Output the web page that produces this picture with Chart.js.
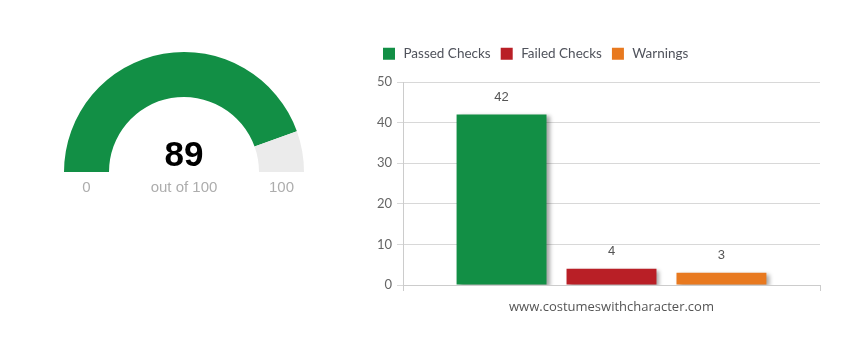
<!DOCTYPE html>
<html><head><meta charset="utf-8">
<script src="https://cdn.jsdelivr.net/npm/chart.js@4.4.1/dist/chart.umd.min.js"></script>
<style>
html,body{margin:0;padding:0;background:#fff;width:855px;height:352px;overflow:hidden;position:relative}
#g{position:absolute;left:54px;top:52px;width:260px;height:150px}
#b{position:absolute;left:373px;top:37px;width:457px;height:283px}
</style></head><body>
<div id="g"><canvas id="gc"></canvas></div>
<div id="b"><canvas id="bc"></canvas></div>
<script>
// gauge data
const gaugeValue = 89;
const gaugeMax = 100;
const gaugeMinLabel = "0";
const gaugeMaxLabel = "100";
const gaugeSubLabel = "out of 100";

// bar data
const categories = ["www.costumeswithcharacter.com"];
const seriesNames = ["Passed Checks", "Failed Checks", "Warnings"];
const passedValues = [42];
const failedValues = [4];
const warningValues = [3];
const seriesColors = ["#128f45", "#b91f26", "#e8791f"];
const yTicks = [0, 10, 20, 30, 40, 50];

const gaugeText = {
  id: 'gaugeText',
  afterDraw(chart) {
    const ctx = chart.ctx;
    const a = chart.chartArea;
    const cx = (a.left + a.right) / 2;
    const meta = chart.getDatasetMeta(0);
    const arc = meta.data[0];
    const r = arc.outerRadius, ir = arc.innerRadius;
    ctx.save();
    ctx.textAlign = 'center';
    ctx.textBaseline = 'middle';
    ctx.fillStyle = '#000';
    ctx.font = 'bold 35px "Liberation Sans", Arial, sans-serif';
    ctx.fillText(String(gaugeValue), cx, a.bottom - 16);
    ctx.fillStyle = '#adadad';
    ctx.font = '15px "Liberation Sans", Arial, sans-serif';
    ctx.fillText(gaugeSubLabel, cx, a.bottom + 16);
    ctx.fillText(gaugeMinLabel, cx - (r + ir) / 2, a.bottom + 16);
    ctx.fillText(gaugeMaxLabel, cx + (r + ir) / 2, a.bottom + 16);
    ctx.restore();
  }
};

new Chart(document.getElementById('gc'), {
  type: 'doughnut',
  data: {
    labels: ['value', 'rest'],
    datasets: [{
      data: [gaugeValue, gaugeMax - gaugeValue],
      backgroundColor: ['#128f45', '#ebebeb'],
      borderWidth: 0,
      hoverOffset: 0
    }]
  },
  options: {
    responsive: true,
    maintainAspectRatio: false,
    animation: false,
    rotation: -90,
    circumference: 180,
    cutout: '62.5%',
    layout: { padding: { left: 10, right: 10, top: 0, bottom: 30 } },
    plugins: { legend: { display: false }, tooltip: { enabled: false } }
  },
  plugins: [gaugeText]
});

const barShadow = {
  id: 'barShadow',
  beforeDatasetsDraw(chart) {
    const ctx = chart.ctx;
    ctx.save();
    ctx.shadowColor = 'rgba(0,0,0,0.35)';
    ctx.shadowOffsetX = 3;
    ctx.shadowOffsetY = 2;
    ctx.shadowBlur = 4;
  },
  afterDatasetsDraw(chart) {
    chart.ctx.restore();
    const ctx = chart.ctx;
    ctx.save();
    ctx.fillStyle = '#555';
    ctx.font = '13px "Liberation Sans", Arial, sans-serif';
    ctx.textAlign = 'center';
    ctx.textBaseline = 'middle';
    chart.data.datasets.forEach((ds, i) => {
      const meta = chart.getDatasetMeta(i);
      meta.data.forEach((bar, j) => {
        ctx.fillText(String(ds.data[j]), bar.x, bar.y - 17);
      });
    });
    ctx.restore();
  }
};

const legendSpace = {
  id: 'legendSpace',
  beforeInit(chart) {
    const orig = chart.legend.fit;
    chart.legend.fit = function () {
      orig.bind(this)();
      this.height = 45;
    };
  }
};

const allValues = [passedValues, failedValues, warningValues];

new Chart(document.getElementById('bc'), {
  type: 'bar',
  data: {
    labels: categories,
    datasets: seriesNames.map((n, i) => ({
      label: n,
      data: allValues[i],
      backgroundColor: seriesColors[i],
      borderWidth: 0,
      categoryPercentage: 0.791,
      barPercentage: 0.818
    }))
  },
  options: {
    responsive: true,
    maintainAspectRatio: false,
    animation: false,
    layout: { padding: { left: 0, right: 10, top: 0, bottom: 0 } },
    plugins: {
      tooltip: { enabled: false },
      legend: {
        position: 'top',
        align: 'start',
        labels: {
          boxWidth: 12, boxHeight: 12, padding: 10,
          color: '#50535c',
          font: { family: 'Lato, sans-serif', size: 13.5 },
          generateLabels(chart) {
            const items = Chart.defaults.plugins.legend.labels.generateLabels(chart);
            items.forEach(it => { it.text = '\u2009' + it.text; });
            return items;
          }
        }
      }
    },
    scales: {
      x: {
        grid: { display: true, drawOnChartArea: false, offset: true, tickLength: 6, color: '#ccc' },
        border: { display: true, color: '#ccc' },
        ticks: { color: '#555', font: { family: '"Open Sans", sans-serif', size: 13 }, padding: 8 },
        afterFit(s) { s.height = 35; }
      },
      y: {
        min: 0, max: 50,
        afterBuildTicks(s) { s.ticks = yTicks.map(v => ({ value: v })); },
        grid: { color: '#d8d8d8', tickLength: 6 },
        border: { display: true, color: '#ccc' },
        ticks: { color: '#666', font: { family: 'Lato, sans-serif', size: 13 }, padding: 5 },
        afterFit(s) { s.width = 30; }
      }
    }
  },
  plugins: [barShadow, legendSpace]
});
</script>
</body></html>
